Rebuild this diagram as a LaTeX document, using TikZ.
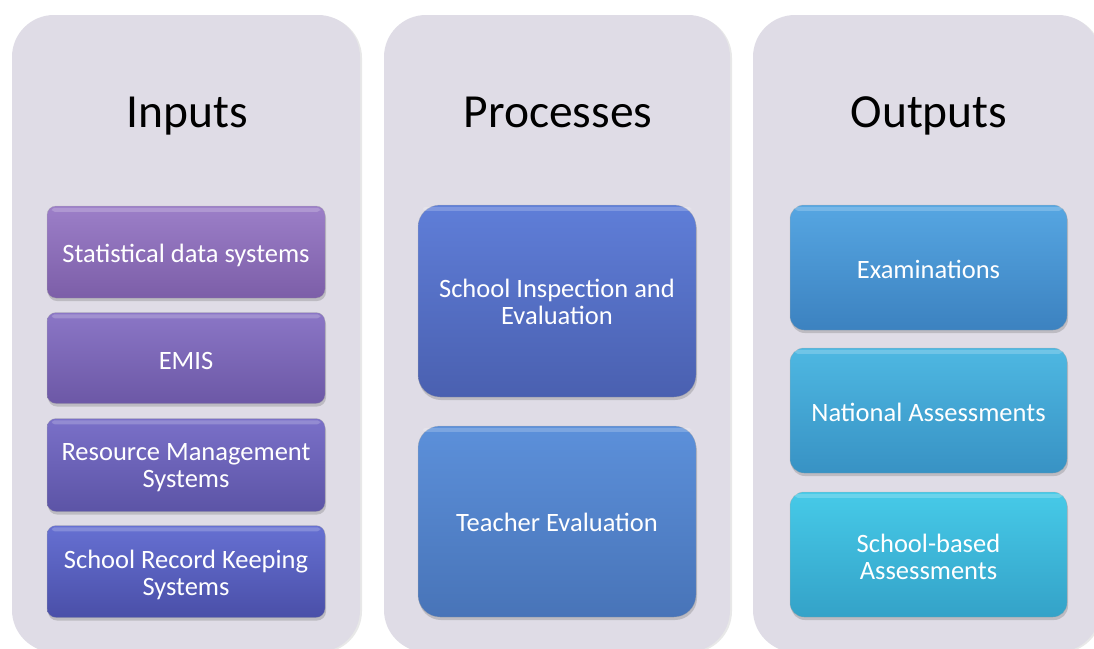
\documentclass[tikz,border=0pt]{standalone}
\usepackage{fontspec}
\setmainfont{Carlito}
\usetikzlibrary{shadows}
\definecolor{panelbg}{HTML}{DFDCE6}
\definecolor{iAt}{HTML}{9C7FC8}\definecolor{iAb}{HTML}{7C5EA8}
\definecolor{iBt}{HTML}{8B76C6}\definecolor{iBb}{HTML}{6C58A6}
\definecolor{iCt}{HTML}{7A70C8}\definecolor{iCb}{HTML}{5C54A6}
\definecolor{iDt}{HTML}{6670D2}\definecolor{iDb}{HTML}{4A4FA8}
\definecolor{pAt}{HTML}{5F7ED8}\definecolor{pAb}{HTML}{4A60B0}
\definecolor{pBt}{HTML}{5C90DA}\definecolor{pBb}{HTML}{4874B8}
\definecolor{oAt}{HTML}{56A6E2}\definecolor{oAb}{HTML}{3C82C0}
\definecolor{oBt}{HTML}{4EB8E2}\definecolor{oBb}{HTML}{3892C4}
\definecolor{oCt}{HTML}{46CAE8}\definecolor{oCb}{HTML}{34A2C8}
\tikzset{
  panel/.style={fill=panelbg, draw=none, rounded corners=42pt, inner sep=0pt,
    drop shadow={opacity=0.18, shadow xshift=2pt, shadow yshift=-1pt}},
  titletext/.style={font=\fontsize{47.5}{52}\selectfont, text=black, anchor=base},
  gbox/.style={draw=black!35, draw opacity=0.5, line width=0.5pt, inner sep=0pt,
    drop shadow={opacity=0.35, shadow xshift=1pt, shadow yshift=-3pt}},
  boxtext/.style={text=white, align=center, inner sep=0pt,
    font=\fontsize{26.5}{27}\selectfont},
  hilite/.style={fill=white, fill opacity=0.2, draw=none}
}
\def\toff{0}
% \gbox{name}{cx}{cy}{w}{h}{radius}{topcolor}{bottomcolor}{text}
\newcommand\gbox[9]{%
  \node[gbox, rounded corners=#6pt, top color=#7, bottom color=#8,
    minimum width=#4pt, minimum height=#5pt] (#1) at (#2,#3) {};
  \fill[hilite, rounded corners=3pt] ([xshift=5pt,yshift=-2pt]#1.north west)
    rectangle ([xshift=-5pt,yshift=-6pt]#1.north east);
  \node[boxtext] (#1-t) at ([yshift=-\toff pt]#1.center) {#9};
}
\begin{document}
\begin{tikzpicture}[x=1pt,y=-1pt]
\clip (0,0) rectangle (1094,648);
\fill[white] (0,0) rectangle (1094,648);
% panels
\node[panel, minimum width=348pt, minimum height=637pt] (pin) at (186,333.5) {};
\node[panel, minimum width=346pt, minimum height=637pt] (ppr) at (557,333.5) {};
\node[panel, minimum width=347pt, minimum height=637pt] (pout) at (926.5,333.5) {};
% titles
\node[titletext] (tin) at (187,127) {Inputs};
\node[titletext] (tpr) at (558,127) {Processes};
\node[titletext] (tout) at (929,127) {Outputs};
% inputs
\def\toff{3}
\gbox{inA}{186}{252}{278}{92}{9}{iAt}{iAb}{Statistical data systems}
\gbox{inB}{186}{358}{278}{91}{9}{iBt}{iBb}{EMIS}
\gbox{inC}{186}{465}{278}{93}{9}{iCt}{iCb}{Resource Management\\Systems}
\gbox{inD}{186}{571.5}{278}{92}{9}{iDt}{iDb}{School Record Keeping\\Systems}
% processes
\def\toff{0.5}
\gbox{prA}{557}{301}{278}{192}{22}{pAt}{pAb}{School Inspection and\\Evaluation}
\gbox{prB}{557}{521.5}{278}{191}{22}{pBt}{pBb}{Teacher Evaluation}
% outputs
\def\toff{2}
\gbox{ouA}{928.5}{267.5}{277}{125}{14}{oAt}{oAb}{Examinations}
\gbox{ouB}{928.5}{410.5}{277}{125}{14}{oBt}{oBb}{National Assessments}
\gbox{ouC}{928.5}{554.5}{277}{125}{14}{oCt}{oCb}{School-based\\Assessments}
\end{tikzpicture}
\end{document}
